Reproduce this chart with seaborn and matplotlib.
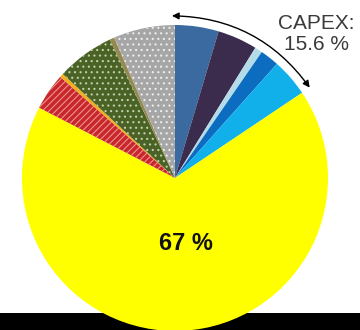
import numpy as np
import matplotlib
matplotlib.use("Agg")
import matplotlib.pyplot as plt
from matplotlib.patches import Rectangle
import seaborn as sns

# Cost shares (%), clockwise from 12 o'clock
segments = ["CAPEX 1", "CAPEX 2", "CAPEX 3", "CAPEX 4", "CAPEX 5",
            "Fuel", "Other 1", "Other 2", "Other 3", "Other 4", "Other 5"]
shares = [4.6, 4.2, 0.8, 2.0, 4.0, 67.0, 3.9, 0.4, 6.1, 0.5, 6.5]
capex_count = 5
capex_label = "CAPEX:\n15.6 %"
main_label = "67 %"
main_index = 5

colors = ["#3b6aa0", "#3b2c4e", "#b4dce8", "#0b6cc0", "#12b0ea",
          "#ffff00", "#c8282c", "#f0b020", "#4a6226", "#948a50", "#a6a6a6"]
hatches = [None, None, None, None, None, None, "/////", None, "...", None, "..."]
hatch_colors = [None, None, None, None, None, None, "#ef9090", None,
                "#c0d0a8", None, "#ececec"]

sns.set_theme(style="white")
plt.rcParams["font.family"] = ["Liberation Sans", "DejaVu Sans"]
plt.rcParams["hatch.linewidth"] = 0.8

fig = plt.figure(figsize=(3.6, 3.3), dpi=100)
fig.patch.set_facecolor("white")

# black band along the bottom edge
fig.patches.append(Rectangle((0, 0), 1, 17 / 330, transform=fig.transFigure,
                             facecolor="black", edgecolor="none", zorder=0))

R = 153
cx, cy = 175, 178
ax = fig.add_axes([(cx - R) / 360, (330 - cy - R) / 330, 2 * R / 360, 2 * R / 330])
ax.patch.set_alpha(0)
ax.set_zorder(1)

wedges, _ = ax.pie(shares, colors=sns.color_palette(colors), startangle=90,
                   counterclock=False, radius=1.0,
                   wedgeprops=dict(linewidth=0))
for w, h, hc in zip(wedges, hatches, hatch_colors):
    if h:
        w.set_hatch(h)
        w.set_edgecolor(hc)
        w.set_linewidth(0)

ax.set_xlim(-1, 1)
ax.set_ylim(-1, 1)
ax.set_aspect("equal")
ax.axis("off")

# label inside the dominant wedge
w = wedges[main_index]
mid = np.deg2rad((w.theta1 + w.theta2) / 2)
ax.text(0.43 * np.cos(mid) + 0.05, 0.43 * np.sin(mid), main_label,
        ha="center", va="center", fontsize=17, fontweight="bold", color="#111111")

# curved arrow spanning the CAPEX wedges
a_start = wedges[0].theta2
a_end = wedges[capex_count - 1].theta1
span = np.deg2rad(a_start - a_end)
r_arc = 1.06
p0 = (r_arc * np.cos(np.deg2rad(a_start)) - 0.02, r_arc * np.sin(np.deg2rad(a_start)))
p1 = (r_arc * np.cos(np.deg2rad(a_end)), r_arc * np.sin(np.deg2rad(a_end)))
ax.annotate("", xy=p1, xytext=p0,
            arrowprops=dict(arrowstyle="<|-|>", color="black", lw=1.0,
                            mutation_scale=10, shrinkA=0, shrinkB=0,
                            connectionstyle=f"arc3,rad={-np.tan(span / 4):.3f}"),
            annotation_clip=False)

fig.text(316 / 360, 1 - 14 / 330, capex_label, ha="center", va="top",
         fontsize=15, color="#3a3a3a", linespacing=1.15, multialignment="center")

fig.savefig("out.png", dpi=100)
